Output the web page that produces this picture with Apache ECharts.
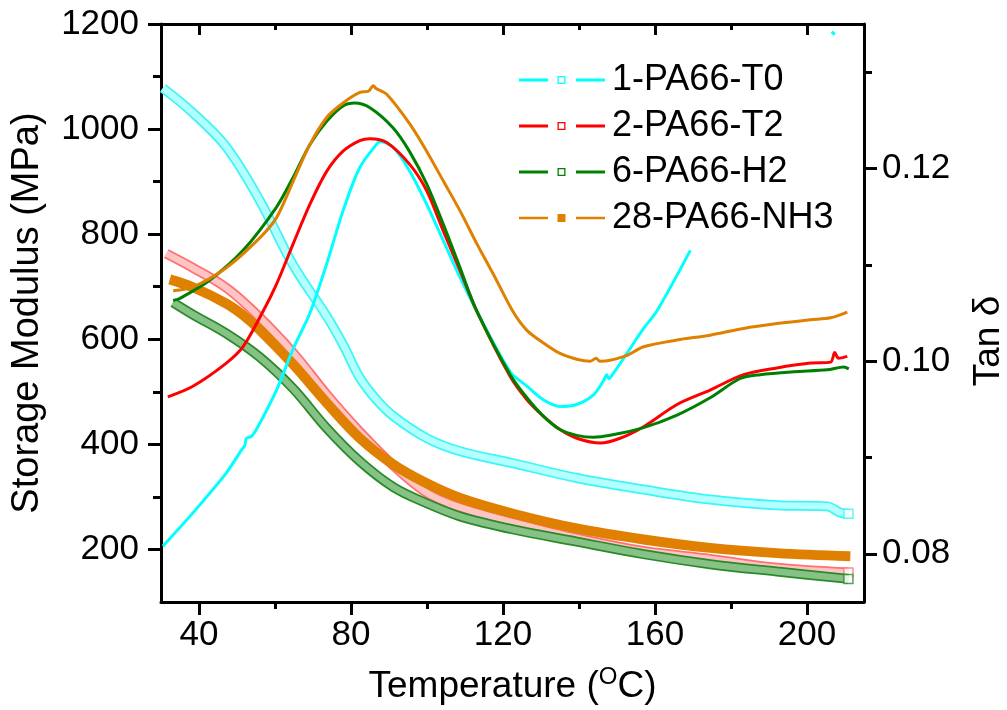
<!DOCTYPE html>
<html>
<head>
<meta charset="utf-8">
<script src="https://cdn.jsdelivr.net/npm/echarts@6/dist/echarts.min.js"></script>
<style>
html,body{margin:0;padding:0;background:#fff;}
#c{width:1007px;height:710px;}
</style>
</head>
<body>
<div id="c"></div>
<script>
// ---------------- DATA ----------------
const names = ['1-PA66-T0', '2-PA66-T2', '6-PA66-H2', '28-PA66-NH3'];

const xTicks = [40, 80, 120, 160, 200];
const xMinorTicks = [60, 100, 140, 180];
const yLeftTicks = [200, 400, 600, 800, 1000, 1200];
const yLeftMinorTicks = [300, 500, 700, 900, 1100];
const yRightTicks = [0.08, 0.10, 0.12];
const yRightMinorTicks = [0.09, 0.11, 0.13];

// Storage modulus (MPa)
const t0ModT = [30.5, 38.4, 47.2, 56.0, 64.8, 73.6, 77.9, 82.3, 86.7, 91.1, 99.9, 108.7, 122.7, 139.4, 157.0, 174.5, 192.1, 205.3, 208.8, 210.9];
const t0ModV = [1078, 1031, 966, 864, 741, 644, 590, 527, 485, 454, 412, 387, 364, 336, 314, 295, 284, 282, 270, 268];

const t2ModT = [31.4, 38.4, 47.2, 54.5, 64.8, 73.6, 82.3, 91.1, 99.9, 108.7, 122.7, 139.4, 157.0, 174.5, 192.1, 210.9];
const t2ModV = [763, 736, 698, 652, 574, 495, 424, 360, 308, 280, 252, 222, 197, 182, 165, 156];

const h2ModT = [33.2, 38.4, 47.2, 56.0, 64.8, 73.6, 82.3, 91.1, 99.9, 108.7, 122.7, 139.4, 157.0, 174.5, 192.1, 210.9];
const h2ModV = [670, 647, 611, 566, 506, 431, 368, 319, 288, 263, 238, 215, 191, 172, 158, 144];

const nh3ModT = [32.3, 38.4, 47.2, 51.6, 56.0, 64.8, 73.6, 82.3, 91.1, 99.9, 108.7, 122.7, 139.4, 157.0, 174.5, 192.1, 211.4];
const nh3ModV = [714, 699, 668, 646, 618, 552, 479, 412, 362, 326, 298, 268, 240, 219, 203, 193, 187];

// Tan delta
const t0TanT = [30.5, 38.4, 47.2, 51.2, 52.0, 52.5, 53.8, 55.1, 60.4, 64.8, 69.2, 73.6, 77.9, 82.3, 86.7, 87.6, 91.1, 95.5, 99.9, 104.3, 108.7, 113.1, 121.9, 126.3, 130.6, 135.0, 139.4, 143.8, 146.5, 147.3, 147.8, 149.5, 152.6, 157.0, 160.5, 169.3, 188.0, 206.5, 207.3];
const t0TanV = [0.0808, 0.08425, 0.0884, 0.0908, 0.0912, 0.0920, 0.0922, 0.0929, 0.0970, 0.1013, 0.1050, 0.1101, 0.1156, 0.1201, 0.1225, 0.1228, 0.1222, 0.1197, 0.1163, 0.1125, 0.1087, 0.1052, 0.0989, 0.0974, 0.0960, 0.0953, 0.0955, 0.0965, 0.0980, 0.0986, 0.0982, 0.0990, 0.1008, 0.1034, 0.1052, 0.1115, null, 0.1342, 0.1339];

const t2TanT = [31.8, 38.4, 47.2, 51.6, 56.9, 60.4, 64.8, 69.2, 73.6, 77.9, 82.3, 85.0, 89.4, 95.5, 99.9, 104.3, 108.7, 113.1, 121.9, 126.3, 130.6, 135.0, 139.4, 145.6, 150.8, 157.0, 165.8, 174.5, 183.3, 192.1, 200.9, 206.2, 207.3, 208.3, 210.6];
const t2TanV = [0.0963, 0.0974, 0.0998, 0.1015, 0.1052, 0.1080, 0.1122, 0.1163, 0.1197, 0.1218, 0.1229, 0.1231, 0.1227, 0.1204, 0.1177, 0.1135, 0.1094, 0.1052, 0.0984, 0.0960, 0.0943, 0.0929, 0.0920, 0.0915, 0.0920, 0.0932, 0.0955, 0.0970, 0.0986, 0.0993, 0.0998, 0.0999, 0.1009, 0.1003, 0.1005];

const h2TanT = [33.2, 34.9, 42.8, 51.6, 60.4, 64.8, 69.2, 73.6, 77.9, 81.0, 85.0, 91.1, 95.5, 99.9, 104.3, 108.7, 113.1, 121.9, 126.3, 130.6, 135.0, 139.4, 143.8, 148.2, 157.0, 165.8, 174.5, 182.4, 187.7, 196.5, 205.3, 209.7, 211.0];
const h2TanV = [0.1063, 0.1065, 0.1084, 0.1115, 0.1160, 0.1191, 0.1225, 0.1249, 0.1265, 0.1268, 0.1263, 0.1242, 0.1217, 0.1184, 0.1142, 0.1097, 0.1052, 0.0986, 0.0962, 0.0943, 0.0929, 0.0923, 0.0921, 0.0923, 0.0931, 0.0944, 0.0962, 0.0982, 0.0986, 0.0989, 0.0991, 0.0994, 0.0992];

const nh3TanT = [33.2, 38.4, 47.2, 56.0, 60.4, 64.8, 69.2, 73.6, 77.9, 82.3, 84.5, 85.2, 85.9, 86.6, 89.4, 95.5, 99.9, 104.3, 108.7, 113.1, 117.5, 122.7, 126.3, 130.6, 135.0, 139.4, 143.0, 144.5, 145.5, 148.2, 152.6, 157.0, 165.8, 174.5, 183.3, 192.1, 200.9, 206.2, 210.6];
const nh3TanV = [0.1073, 0.1077, 0.1097, 0.1128, 0.1149, 0.1187, 0.1225, 0.1253, 0.1268, 0.1279, 0.1280, 0.1283, 0.1286, 0.1283, 0.1277, 0.1246, 0.1218, 0.1187, 0.1156, 0.1122, 0.1090, 0.1051, 0.1032, 0.1019, 0.1008, 0.1002, 0.1000, 0.1003, 0.1000, 0.1001, 0.1006, 0.1015, 0.1022, 0.1027, 0.1034, 0.1039, 0.1043, 0.1045, 0.1051];

// ---------------- STYLE ----------------
const FONT = "'Liberation Sans', Arial, sans-serif";
const lineColors = ['#00FFFF', '#FF0000', '#008000', '#E08000'];
const bandOuter = ['#3CF5F5', '#FF7070', '#2A8A2A', '#E08000'];
const bandInner = ['#B4FFFF', '#FFC4C4', '#86C286', '#E08000'];

const hollowIcon = 'path://M0,2.5H29V5.5H0Z M38.5,0H46.5V8H38.5Z M39.8,1.3V6.7H45.2V1.3Z M57,2.5H86V5.5H57Z';
const filledIcon = 'path://M0,2.8H29V5.2H0Z M38.5,0H46.5V8H38.5Z M57,2.8H86V5.2H57Z';

function pairs(T, V) { return T.map((t, i) => [t, V[i]]); }

const modT = [t0ModT, t2ModT, h2ModT, nh3ModT];
const modV = [t0ModV, t2ModV, h2ModV, nh3ModV];
const tanT = [t0TanT, t2TanT, h2TanT, nh3TanT];
const tanV = [t0TanV, t2TanV, h2TanV, nh3TanV];

const series = [];
const bandOrder = [0, 1, 2, 3];
bandOrder.forEach((k, j) => {
  const d = pairs(modT[k], modV[k]);
  const common = { type: 'line', xAxisIndex: 0, yAxisIndex: 0, data: d, smooth: 0.35,
    symbol: 'none', silent: true };
  if (k === 3) {
    series.push(Object.assign({}, common, { name: names[k] + " E'", z: 2 + j * 0.1,
      lineStyle: { width: 10, color: bandOuter[k] } }));
  } else {
    series.push(Object.assign({}, common, { name: names[k] + " E'", z: 2 + j * 0.1,
      lineStyle: { width: 10, color: bandOuter[k] } }));
    series.push(Object.assign({}, common, { name: names[k] + " E' in", z: 2.05 + j * 0.1,
      lineStyle: { width: 6.5, color: bandInner[k] } }));
    const last = d[d.length - 1];
    series.push({ type: 'scatter', name: names[k] + ' end', xAxisIndex: 0, yAxisIndex: 0, data: [last],
      symbol: 'rect', symbolSize: 9, silent: true, z: 2.08 + j * 0.1,
      itemStyle: { color: '#fff', borderColor: bandOuter[k], borderWidth: 1.5 } });
  }
});
for (let k = 0; k < 4; k++) {
  series.push({ type: 'line', name: names[k], xAxisIndex: 0, yAxisIndex: 2, data: pairs(tanT[k], tanV[k]),
    smooth: 0.3, symbol: 'none', connectNulls: false, z: 10 + k, color: lineColors[k],
    itemStyle: { color: lineColors[k] }, lineStyle: { width: 3, color: lineColors[k] } });
}

const labelStyle = { fontSize: 35, fontFamily: FONT, color: '#000' };
const blackLine = { show: true, onZero: false, lineStyle: { color: '#000', width: 3 } };
const noLine = { show: false, onZero: false };

const xMin = 30, xMax = 215, yMin = 100, yMax = 1200, tMin = 0.075, tMax = 0.135;

const option = {
  backgroundColor: '#fff',
  animation: false,
  grid: { left: 161, right: 143, top: 24, bottom: 108, containLabel: false, outerBoundsMode: 'none' },
  legend: {
    orient: 'vertical', left: 514, top: 57, itemWidth: 86, itemHeight: 8, itemGap: 10,
    selectedMode: false,
    textStyle: { fontSize: 36, fontFamily: FONT, color: '#000', lineHeight: 36, padding: [0, 0, 0, 2] },
    data: names.map((n, i) => ({ name: n, icon: i === 3 ? filledIcon : hollowIcon }))
  },
  xAxis: [
    { type: 'value', position: 'bottom', min: xMin, max: xMax, axisLine: blackLine,
      axisTick: { show: true, inside: false, length: 13, customValues: xTicks, lineStyle: { color: '#000', width: 3 } },
      axisLabel: { show: true, margin: 16, customValues: xTicks, formatter: v => String(v), ...labelStyle },
      splitLine: { show: false },
      name: 'Temperature ({sup|O}C)', nameLocation: 'middle', nameGap: 63,
      nameTextStyle: { fontSize: 37, fontFamily: FONT, color: '#000', lineHeight: 44,
        rich: { sup: { fontSize: 24, fontFamily: FONT, color: '#000', verticalAlign: 'top', lineHeight: 44 } } } },
    { type: 'value', position: 'bottom', min: xMin, max: xMax, axisLine: noLine,
      axisTick: { show: true, inside: false, length: 7, customValues: xMinorTicks, lineStyle: { color: '#000', width: 3 } },
      axisLabel: { show: false }, splitLine: { show: false } },
    { type: 'value', position: 'top', min: xMin, max: xMax, axisLine: blackLine,
      axisTick: { show: true, inside: true, length: 11, customValues: xTicks, lineStyle: { color: '#000', width: 3 } },
      axisLabel: { show: false }, splitLine: { show: false } },
    { type: 'value', position: 'top', min: xMin, max: xMax, axisLine: noLine,
      axisTick: { show: true, inside: true, length: 6, customValues: xMinorTicks, lineStyle: { color: '#000', width: 3 } },
      axisLabel: { show: false }, splitLine: { show: false } }
  ],
  yAxis: [
    { type: 'value', position: 'left', min: yMin, max: yMax, axisLine: blackLine,
      axisTick: { show: true, inside: false, length: 13, customValues: yLeftTicks, lineStyle: { color: '#000', width: 3 } },
      axisLabel: { show: true, margin: 22, customValues: yLeftTicks, formatter: v => String(v), ...labelStyle },
      splitLine: { show: false },
      name: 'Storage Modulus (MPa)', nameLocation: 'middle', nameGap: 114, nameRotate: 90,
      nameTextStyle: { fontSize: 38, fontFamily: FONT, color: '#000' } },
    { type: 'value', position: 'left', min: yMin, max: yMax, axisLine: noLine,
      axisTick: { show: true, inside: false, length: 8, customValues: yLeftMinorTicks, lineStyle: { color: '#000', width: 3 } },
      axisLabel: { show: false }, splitLine: { show: false } },
    { type: 'value', position: 'right', min: tMin, max: tMax, axisLine: blackLine,
      axisTick: { show: true, inside: false, length: 13, customValues: yRightTicks, lineStyle: { color: '#000', width: 3 } },
      axisLabel: { show: true, margin: 18, customValues: yRightTicks, formatter: v => v.toFixed(2), ...labelStyle },
      splitLine: { show: false },
      name: 'Tan δ', nameLocation: 'middle', nameGap: 106, nameRotate: 90,
      nameTextStyle: { fontSize: 37, fontFamily: FONT, color: '#000', padding: [0, 56, 0, 0] } },
    { type: 'value', position: 'right', min: tMin, max: tMax, axisLine: noLine,
      axisTick: { show: true, inside: false, length: 8, customValues: yRightMinorTicks, lineStyle: { color: '#000', width: 3 } },
      axisLabel: { show: false }, splitLine: { show: false } }
  ],
  series: series
};

const chart = echarts.init(document.getElementById('c'), null, { renderer: 'canvas' });
chart.setOption(option);
</script>
</body>
</html>
